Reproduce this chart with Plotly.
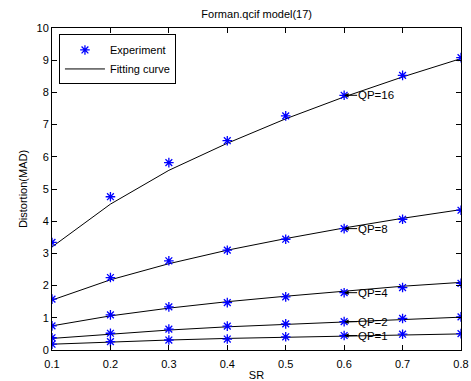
import plotly.graph_objects as go

# Sampling ratio values on the horizontal axis
sr = [0.1, 0.2, 0.3, 0.4, 0.5, 0.6, 0.7, 0.8]

# Measured distortion (MAD) for each QP
exp_qp16 = [3.34, 4.76, 5.82, 6.50, 7.27, 7.91, 8.53, 9.08]
exp_qp8 = [1.58, 2.25, 2.77, 3.10, 3.44, 3.77, 4.06, 4.34]
exp_qp4 = [0.75, 1.09, 1.34, 1.47, 1.65, 1.78, 1.94, 2.07]
exp_qp2 = [0.38, 0.52, 0.65, 0.74, 0.81, 0.88, 0.98, 1.03]
exp_qp1 = [0.18, 0.26, 0.31, 0.34, 0.41, 0.45, 0.49, 0.51]

# Model (fitted) distortion for each QP
fit_qp16 = [3.20, 4.53, 5.58, 6.42, 7.18, 7.86, 8.48, 9.05]
fit_qp8 = [1.55, 2.18, 2.68, 3.10, 3.46, 3.79, 4.09, 4.36]
fit_qp4 = [0.75, 1.06, 1.30, 1.50, 1.67, 1.83, 1.98, 2.10]
fit_qp2 = [0.36, 0.50, 0.62, 0.72, 0.80, 0.88, 0.95, 1.02]
fit_qp1 = [0.18, 0.25, 0.31, 0.36, 0.40, 0.44, 0.47, 0.50]

qp_labels = ["QP=16", "QP=8", "QP=4", "QP=2", "QP=1"]
experiments = [exp_qp16, exp_qp8, exp_qp4, exp_qp2, exp_qp1]
fits = [fit_qp16, fit_qp8, fit_qp4, fit_qp2, fit_qp1]

x_ticks = [0.1, 0.2, 0.3, 0.4, 0.5, 0.6, 0.7, 0.8]
y_ticks = [0, 1, 2, 3, 4, 5, 6, 7, 8, 9, 10]

FONT = "Liberation Sans, Arial, sans-serif"

fig = go.Figure()

for i, (ex, ft) in enumerate(zip(experiments, fits)):
    fig.add_trace(go.Scatter(
        x=sr, y=ft, mode="lines",
        line=dict(color="black", width=1),
        name="Fitting curve", legendgroup="fit", showlegend=(i == 0),
        legendrank=2,
    ))
    fig.add_trace(go.Scatter(
        x=sr, y=ex, mode="markers",
        marker=dict(symbol="asterisk-open", size=8, color="blue",
                    line=dict(color="blue", width=1.3)),
        name="Experiment", legendgroup="exp", showlegend=(i == 0),
        legendrank=1,
    ))

# Labels beside the SR=0.6 sample of each curve, with a short arrow to the point
for lab, ex in zip(qp_labels, experiments):
    fig.add_annotation(
        x=0.6, y=ex[5], text=lab, showarrow=True,
        ax=13, ay=0, xanchor="left", yanchor="middle",
        arrowhead=2, arrowsize=0.9, arrowwidth=1, arrowcolor="black",
        standoff=0, startstandoff=0, borderpad=0,
        font=dict(family=FONT, size=11.5, color="black"),
    )

axis_common = dict(
    showgrid=False, zeroline=False,
    showline=True, linecolor="black", linewidth=1, mirror="ticks",
    ticks="inside", ticklen=5, tickcolor="black", tickwidth=1,
    tickfont=dict(family=FONT, size=11, color="black"),
    automargin=False,
)

fig.update_xaxes(
    range=[0.1, 0.8], tickvals=x_ticks, ticktext=[str(v) for v in x_ticks],
    ticklabelstandoff=4,
    title=dict(text="SR", font=dict(family=FONT, size=11, color="black"), standoff=2),
    **axis_common,
)
fig.update_yaxes(
    range=[0, 10], tickvals=y_ticks,
    title=dict(text="Distortion(MAD)", font=dict(family=FONT, size=11, color="black"), standoff=6),
    **axis_common,
)

fig.update_layout(
    width=471, height=381,
    margin=dict(l=52, r=10, t=28, b=31),
    paper_bgcolor="white", plot_bgcolor="white",
    title=dict(text="Forman.qcif model(17)", x=0.545, xanchor="center",
               y=0.963, yanchor="middle",
               font=dict(family=FONT, size=11, color="black")),
    legend=dict(
        x=0.017, y=0.98, xanchor="left", yanchor="top",
        bgcolor="white", bordercolor="black", borderwidth=1,
        font=dict(family=FONT, size=11, color="black"),
        traceorder="normal", itemwidth=40, tracegroupgap=0,
    ),
    showlegend=True,
)

fig.write_html("out.html")
